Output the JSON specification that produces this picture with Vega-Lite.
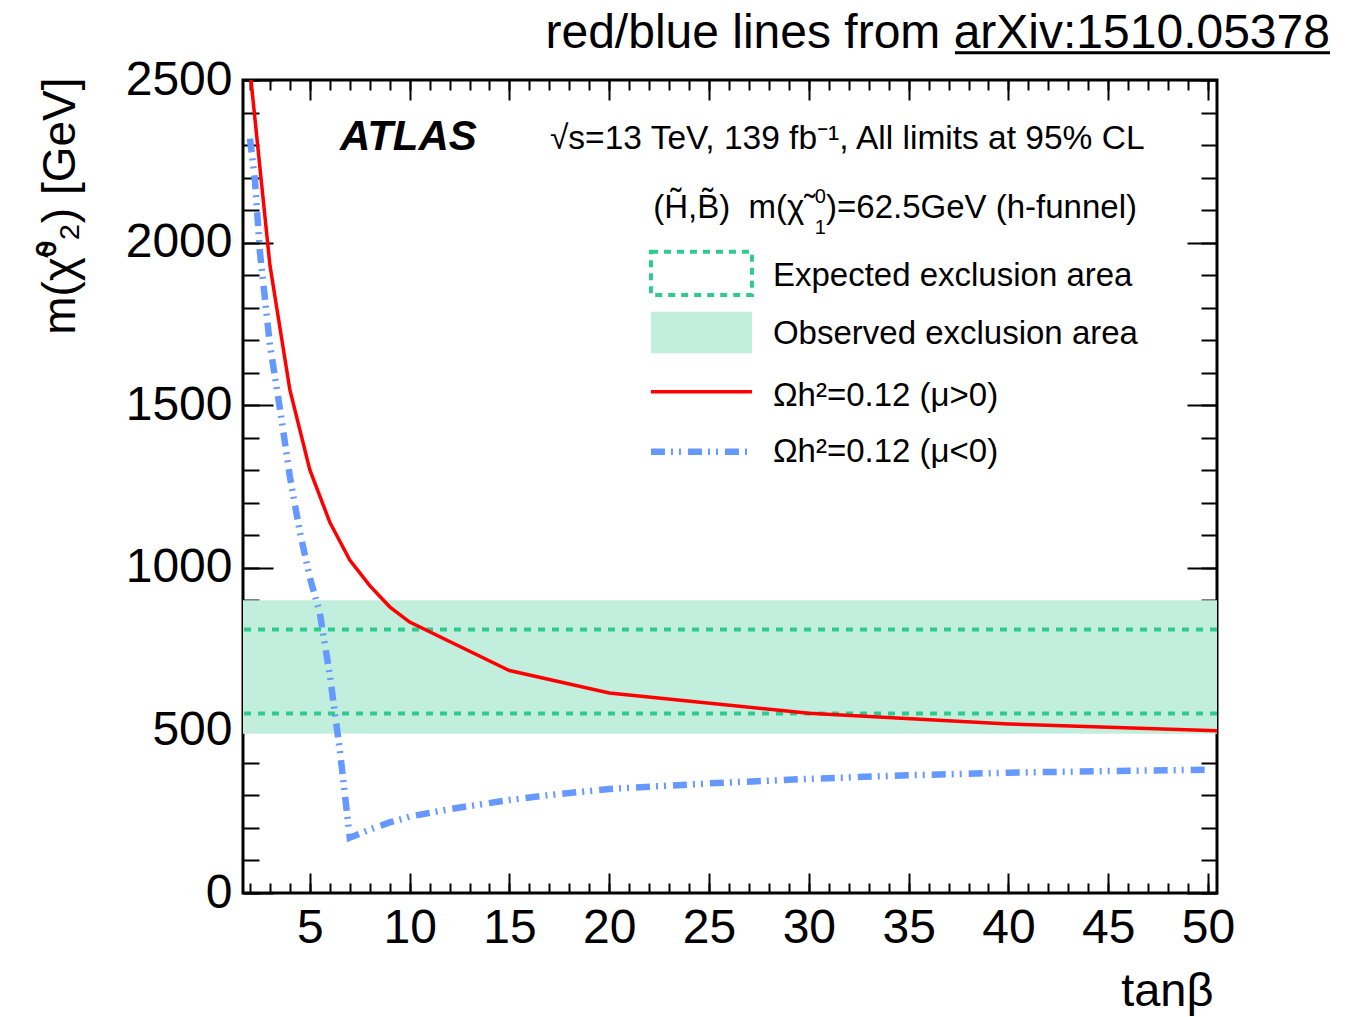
{
  "$schema": "https://vega.github.io/schema/vega-lite/v6.json",
  "width": 974,
  "height": 813,
  "autosize": {"type": "none"},
  "padding": {"left": 243, "top": 80, "right": 131, "bottom": 124},
  "background": "white",
  "config": {
    "view": {"stroke": "black", "strokeWidth": 3},
    "axis": {"grid": false, "domain": false, "tickColor": "black", "tickWidth": 2, "labelColor": "black", "titleColor": "black", "labelFont": "Liberation Sans", "titleFont": "Liberation Sans", "titleFontWeight": "normal", "zindex": 1}
  },
  "datasets": {
    "curves": [
      {"series": "mu>0", "tanb": 2, "mass": 2530},
      {"series": "mu>0", "tanb": 3, "mass": 1930},
      {"series": "mu>0", "tanb": 4, "mass": 1547},
      {"series": "mu>0", "tanb": 5, "mass": 1301},
      {"series": "mu>0", "tanb": 6, "mass": 1140},
      {"series": "mu>0", "tanb": 7, "mass": 1024},
      {"series": "mu>0", "tanb": 8, "mass": 945},
      {"series": "mu>0", "tanb": 9, "mass": 880},
      {"series": "mu>0", "tanb": 10, "mass": 833},
      {"series": "mu>0", "tanb": 15, "mass": 684},
      {"series": "mu>0", "tanb": 20, "mass": 615},
      {"series": "mu>0", "tanb": 30, "mass": 553},
      {"series": "mu>0", "tanb": 40, "mass": 520},
      {"series": "mu>0", "tanb": 50.5, "mass": 499},
      {"series": "mu<0", "tanb": 2, "mass": 2320},
      {"series": "mu<0", "tanb": 2.25, "mass": 2190},
      {"series": "mu<0", "tanb": 2.5, "mass": 1970},
      {"series": "mu<0", "tanb": 3, "mass": 1685},
      {"series": "mu<0", "tanb": 3.5, "mass": 1490},
      {"series": "mu<0", "tanb": 4, "mass": 1280},
      {"series": "mu<0", "tanb": 4.5, "mass": 1110},
      {"series": "mu<0", "tanb": 5, "mass": 970},
      {"series": "mu<0", "tanb": 5.5, "mass": 860},
      {"series": "mu<0", "tanb": 6, "mass": 670},
      {"series": "mu<0", "tanb": 6.5, "mass": 440},
      {"series": "mu<0", "tanb": 7, "mass": 170},
      {"series": "mu<0", "tanb": 8, "mass": 195},
      {"series": "mu<0", "tanb": 9, "mass": 217},
      {"series": "mu<0", "tanb": 10, "mass": 235},
      {"series": "mu<0", "tanb": 12, "mass": 258},
      {"series": "mu<0", "tanb": 15, "mass": 286},
      {"series": "mu<0", "tanb": 17, "mass": 301},
      {"series": "mu<0", "tanb": 20, "mass": 320},
      {"series": "mu<0", "tanb": 25, "mass": 337},
      {"series": "mu<0", "tanb": 30, "mass": 351},
      {"series": "mu<0", "tanb": 35, "mass": 362},
      {"series": "mu<0", "tanb": 40, "mass": 370},
      {"series": "mu<0", "tanb": 45, "mass": 375},
      {"series": "mu<0", "tanb": 50, "mass": 379}
    ],
    "limits": [
      {"kind": "observed", "low": 490, "high": 900},
      {"kind": "expected", "low": 552, "high": 810}
    ],
    "one": [{}]
  },
  "resolve": {"axis": {"x": "independent", "y": "independent"}},
  "layer": [
    {
      "data": {"name": "limits"},
      "transform": [{"filter": "datum.kind === 'observed'"}],
      "mark": {"type": "rect", "color": "#c2eedd"},
      "encoding": {
        "y": {"field": "low", "type": "quantitative", "axis": {"orient": "left", "values": [0,100,200,300,400,500,600,700,800,900,1000,1100,1200,1300,1400,1500,1600,1700,1800,1900,2000,2100,2200,2300,2400,2500], "labels": false, "tickSize": -16, "title": null}},
        "y2": {"field": "high"}
      }
    },
    {
      "data": {"name": "limits"},
      "transform": [{"filter": "datum.kind === 'expected'"}],
      "mark": {"type": "rule", "color": "#2fcb8e", "strokeWidth": 4, "strokeDash": [7, 7]},
      "encoding": {
        "y": {"field": "low", "type": "quantitative", "axis": {"orient": "right", "values": [0,100,200,300,400,500,600,700,800,900,1000,1100,1200,1300,1400,1500,1600,1700,1800,1900,2000,2100,2200,2300,2400,2500], "labels": false, "tickSize": -16, "title": null}}
      }
    },
    {
      "data": {"name": "limits"},
      "transform": [{"filter": "datum.kind === 'expected'"}],
      "mark": {"type": "rule", "color": "#2fcb8e", "strokeWidth": 4, "strokeDash": [7, 7]},
      "encoding": {
        "y": {"field": "high", "type": "quantitative", "axis": {"orient": "right", "values": [0,500,1000,1500,2000,2500], "labels": false, "tickSize": -30, "title": null}}
      }
    },
    {
      "data": {"name": "curves"},
      "transform": [{"filter": "datum.series === 'mu>0'"}],
      "mark": {"type": "line", "color": "#ff0000", "strokeWidth": 3.5, "clip": true},
      "encoding": {
        "x": {"field": "tanb", "type": "quantitative", "scale": {"domain": [1.65, 50.45], "nice": false, "zero": false},
              "axis": {"orient": "bottom", "values": [5,10,15,20,25,30,35,40,45,50], "ticks": false, "labelFontSize": 48, "labelPadding": 11, "labelFlush": false, "labelOverlap": false, "format": "d",
                       "title": "tanβ", "titleFontSize": 47, "titleAlign": "right", "titleBaseline": "alphabetic", "titleX": 970, "titleY": 112}},
        "y": {"field": "mass", "type": "quantitative", "scale": {"domain": [0, 2500], "nice": false},
              "axis": {"orient": "left", "values": [0,500,1000,1500,2000,2500], "ticks": false, "labelFontSize": 48, "labelPadding": 11, "labelFlush": false, "labelOverlap": false, "format": "d",
                       "title": "m(χ̃⁰₂) [GeV]", "titleFontSize": 46, "titleAngle": 270, "titleAlign": "right", "titleBaseline": "alphabetic", "titleX": -169, "titleY": -3}}
      }
    },
    {
      "data": {"name": "curves"},
      "transform": [{"filter": "datum.series === 'mu<0'"}],
      "mark": {"type": "line", "color": "#6699ff", "strokeWidth": 6.5, "strokeDash": [14, 6, 2, 6, 2, 7], "clip": true},
      "encoding": {
        "x": {"field": "tanb", "type": "quantitative", "axis": {"orient": "bottom", "values": [5,10,15,20,25,30,35,40,45,50], "labels": false, "tickSize": -20, "title": null}},
        "y": {"field": "mass", "type": "quantitative", "axis": {"orient": "left", "values": [0,500,1000,1500,2000,2500], "labels": false, "tickSize": -30, "title": null}}
      }
    },
    {
      "data": {"name": "one"},
      "mark": {"type": "rect", "fill": "transparent", "stroke": "#2fcb8e", "strokeWidth": 4, "strokeDash": [7, 6]},
      "encoding": {
        "x": {"datum": 22.09, "type": "quantitative", "axis": {"orient": "bottom", "values": [2,3,4,5,6,7,8,9,10,11,12,13,14,15,16,17,18,19,20,21,22,23,24,25,26,27,28,29,30,31,32,33,34,35,36,37,38,39,40,41,42,43,44,45,46,47,48,49,50], "labels": false, "tickSize": -10, "title": null}},
        "x2": {"datum": 27.15},
        "y": {"datum": 1972, "type": "quantitative", "axis": null},
        "y2": {"datum": 1839}
      }
    },
    {
      "data": {"name": "one"},
      "mark": {"type": "rect", "color": "#c2eedd"},
      "encoding": {
        "x": {"datum": 22.09, "type": "quantitative", "axis": {"orient": "top", "values": [5,10,15,20,25,30,35,40,45,50], "labels": false, "tickSize": -20, "title": null}},
        "x2": {"datum": 27.15},
        "y": {"datum": 1787, "type": "quantitative", "axis": null},
        "y2": {"datum": 1660}
      }
    },
    {
      "data": {"name": "one"},
      "mark": {"type": "rule", "color": "#ff0000", "strokeWidth": 3.5},
      "encoding": {
        "x": {"datum": 22.09, "type": "quantitative", "axis": {"orient": "top", "values": [2,3,4,5,6,7,8,9,10,11,12,13,14,15,16,17,18,19,20,21,22,23,24,25,26,27,28,29,30,31,32,33,34,35,36,37,38,39,40,41,42,43,44,45,46,47,48,49,50], "labels": false, "tickSize": -10, "title": null}},
        "x2": {"datum": 27.15},
        "y": {"datum": 1541, "type": "quantitative", "axis": null}
      }
    },
    {
      "data": {"name": "one"},
      "mark": {"type": "rule", "color": "#6699ff", "strokeWidth": 6.5, "strokeDash": [14, 6, 2, 6, 2, 7]},
      "encoding": {
        "x": {"datum": 22.09, "type": "quantitative", "axis": null},
        "x2": {"datum": 26.9},
        "y": {"datum": 1357, "type": "quantitative", "axis": null}
      }
    },
    {
      "data": {"name": "one"},
      "mark": {"type": "rule", "color": "black", "strokeWidth": 3},
      "encoding": {
        "x": {"datum": 37.32, "type": "quantitative", "axis": null},
        "x2": {"datum": 56.11},
        "y": {"datum": 2584, "type": "quantitative", "axis": null}
      }
    },
    {
      "data": {"name": "one"},
      "mark": {"type": "text", "text": "red/blue lines from arXiv:1510.05378", "align": "right", "baseline": "alphabetic", "font": "Liberation Sans", "fontSize": 48, "color": "black"},
      "encoding": {"x": {"datum": 56.11, "type": "quantitative", "axis": null}, "y": {"datum": 2598, "type": "quantitative", "axis": null}}
    },
    {
      "data": {"name": "one"},
      "mark": {"type": "text", "text": "ATLAS", "align": "left", "baseline": "alphabetic", "font": "Liberation Sans", "fontSize": 42, "fontWeight": "bold", "fontStyle": "italic", "color": "black"},
      "encoding": {"x": {"datum": 6.51, "type": "quantitative", "axis": null}, "y": {"datum": 2285, "type": "quantitative", "axis": null}}
    },
    {
      "data": {"name": "one"},
      "mark": {"type": "text", "text": "√s=13 TeV, 139 fb⁻¹, All limits at 95% CL", "align": "left", "baseline": "alphabetic", "font": "Liberation Sans", "fontSize": 33.5, "color": "black"},
      "encoding": {"x": {"datum": 17.03, "type": "quantitative", "axis": null}, "y": {"datum": 2288, "type": "quantitative", "axis": null}}
    },
    {
      "data": {"name": "one"},
      "mark": {"type": "text", "text": "(H̃,B̃)\u00a0 m(χ̃", "align": "left", "baseline": "alphabetic", "font": "Liberation Sans", "fontSize": 33, "color": "black"},
      "encoding": {"x": {"datum": 22.2, "type": "quantitative", "axis": null}, "y": {"datum": 2076, "type": "quantitative", "axis": null}}
    },
    {
      "data": {"name": "one"},
      "mark": {"type": "text", "text": "0", "align": "left", "baseline": "alphabetic", "font": "Liberation Sans", "fontSize": 20, "color": "black"},
      "encoding": {"x": {"datum": 30.3, "type": "quantitative", "axis": null}, "y": {"datum": 2122, "type": "quantitative", "axis": null}}
    },
    {
      "data": {"name": "one"},
      "mark": {"type": "text", "text": "1", "align": "left", "baseline": "alphabetic", "font": "Liberation Sans", "fontSize": 20, "color": "black"},
      "encoding": {"x": {"datum": 30.3, "type": "quantitative", "axis": null}, "y": {"datum": 2026, "type": "quantitative", "axis": null}}
    },
    {
      "data": {"name": "one"},
      "mark": {"type": "text", "text": ")=62.5GeV (h-funnel)", "align": "right", "baseline": "alphabetic", "font": "Liberation Sans", "fontSize": 33, "color": "black"},
      "encoding": {"x": {"datum": 46.44, "type": "quantitative", "axis": null}, "y": {"datum": 2076, "type": "quantitative", "axis": null}}
    },
    {
      "data": {"name": "one"},
      "mark": {"type": "text", "text": "Expected exclusion area", "align": "left", "baseline": "alphabetic", "font": "Liberation Sans", "fontSize": 33, "color": "black"},
      "encoding": {"x": {"datum": 28.2, "type": "quantitative", "axis": null}, "y": {"datum": 1866, "type": "quantitative", "axis": null}}
    },
    {
      "data": {"name": "one"},
      "mark": {"type": "text", "text": "Observed exclusion area", "align": "left", "baseline": "alphabetic", "font": "Liberation Sans", "fontSize": 33, "color": "black"},
      "encoding": {"x": {"datum": 28.2, "type": "quantitative", "axis": null}, "y": {"datum": 1688, "type": "quantitative", "axis": null}}
    },
    {
      "data": {"name": "one"},
      "mark": {"type": "text", "text": "Ωh²=0.12 (μ>0)", "align": "left", "baseline": "alphabetic", "font": "Liberation Sans", "fontSize": 33, "color": "black"},
      "encoding": {"x": {"datum": 28.2, "type": "quantitative", "axis": null}, "y": {"datum": 1498, "type": "quantitative", "axis": null}}
    },
    {
      "data": {"name": "one"},
      "mark": {"type": "text", "text": "Ωh²=0.12 (μ<0)", "align": "left", "baseline": "alphabetic", "font": "Liberation Sans", "fontSize": 33, "color": "black"},
      "encoding": {"x": {"datum": 28.2, "type": "quantitative", "axis": null}, "y": {"datum": 1325, "type": "quantitative", "axis": null}}
    }
  ]
}
